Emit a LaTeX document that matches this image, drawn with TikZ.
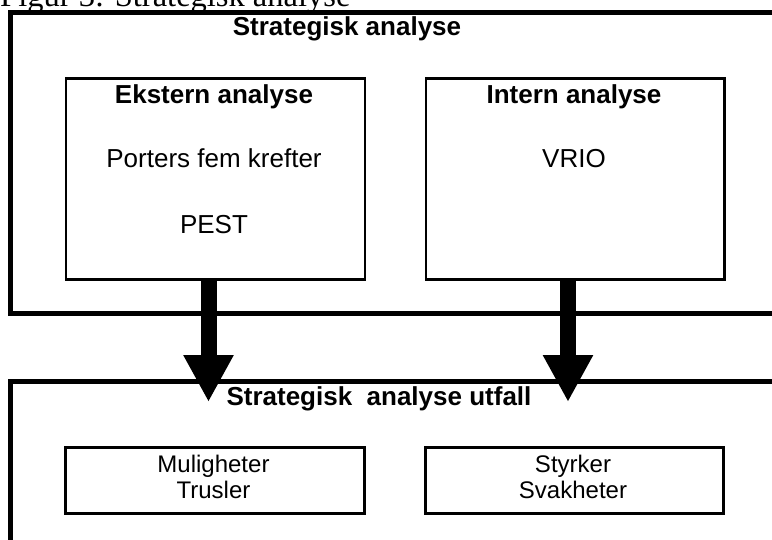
\documentclass[tikz,border=0pt]{standalone}
\usepackage{fontspec}
\setmainfont{Liberation Sans}
\newfontfamily\capfont{Liberation Serif}
\usetikzlibrary{arrows.meta}
\tikzset{
  frame/.style={line width=5pt, line join=miter, line cap=rect},
  box/.style={draw, line width=2.6pt, inner sep=0pt, anchor=north west},
  lbl/.style={anchor=base, inner sep=0pt, font=\fontsize{26}{30}\selectfont},
  hdr/.style={lbl, font=\fontsize{26}{30}\selectfont\bfseries},
  small/.style={anchor=base, inner sep=0pt, font=\fontsize{24}{28}\selectfont},
  bigarrow/.style={line width=16pt, -{Triangle[width=47pt,length=47pt]}}
}
\begin{document}
\begin{tikzpicture}[x=1pt, y=-1pt]
\useasboundingbox (0,0) rectangle (772,539);
\clip (0,0) rectangle (772,539);
% caption (cut off at top, as in the reference)
\node[anchor=base west, inner sep=0pt, font=\capfont\fontsize{32.5}{38}\selectfont] (cap) at (0,6.5) {Figur 3: Strategisk analyse};
% outer frames
\draw[frame] (780,12.5) -- (10.5,12.5) -- (10.5,313) -- (780,313);
\draw[frame] (780,381) -- (10.5,381) -- (10.5,537);
% titles
\node[hdr] (t1) at (347,35) {Strategisk analyse};
\node[hdr] (t2) at (379,405) {Strategisk~~analyse utfall};
% upper boxes
\node[box, minimum width=299pt, minimum height=201pt] (ext) at (64.5,77) {};
\node[box, minimum width=298.5pt, minimum height=201pt] (int) at (424.5,77) {};
\node[hdr] (eh) at (214,103) {Ekstern analyse};
\node[lbl] (pf) at (214,167) {Porters fem krefter};
\node[lbl] (pe) at (214,233) {PEST};
\node[hdr] (ih) at (574,103) {Intern analyse};
\node[lbl] (vr) at (574,167) {VRIO};
% lower boxes
\node[box, minimum width=299pt, minimum height=66pt] (mt) at (64,446) {};
\node[box, minimum width=298pt, minimum height=66pt] (ss) at (424,446) {};
\node[small] (m1) at (213.5,472) {Muligheter};
\node[small] (m2) at (213.5,498) {Trusler};
\node[small] (s1) at (573,472) {Styrker};
\node[small] (s2) at (573,498) {Svakheter};
% arrows
\coordinate (tipL) at (208.5,402);
\coordinate (tipR) at (568,402);
\draw[bigarrow] (tipL |- ext.south) -- (tipL);
\draw[bigarrow] (tipR |- int.south) -- (tipR);
\end{tikzpicture}
\end{document}
